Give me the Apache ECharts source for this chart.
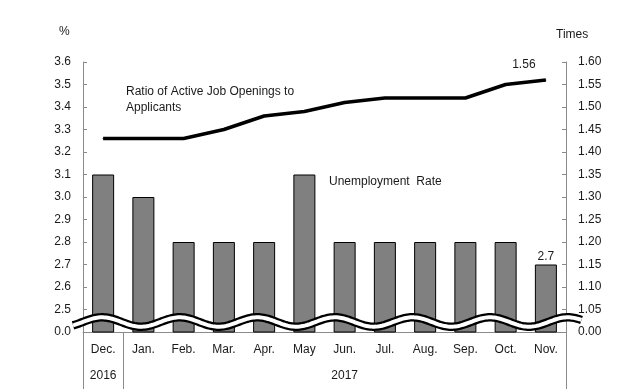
<!DOCTYPE html>
<html>
<head>
<meta charset="utf-8">
<script src="https://cdn.jsdelivr.net/npm/echarts@6/dist/echarts.min.js"></script>
<style>
html,body{margin:0;padding:0;background:#fff;}
#c{width:643px;height:389px;}
</style>
</head>
<body>
<div id="c"></div>
<script>
const categories = ['Dec.','Jan.','Feb.','Mar.','Apr.','May','Jun.','Jul.','Aug.','Sep.','Oct.','Nov.'];
const unemploymentRate = [3.1,3.0,2.8,2.8,2.8,3.1,2.8,2.8,2.8,2.8,2.8,2.7];
const jobOpeningsRatio = [1.43,1.43,1.43,1.45,1.48,1.49,1.51,1.52,1.52,1.52,1.55,1.56];
const leftTickLabels = ['0.0','2.5','2.6','2.7','2.8','2.9','3.0','3.1','3.2','3.3','3.4','3.5','3.6'];
const rightTickLabels = ['0.00','1.05','1.10','1.15','1.20','1.25','1.30','1.35','1.40','1.45','1.50','1.55','1.60'];
const yearLabels = ['2016','2017'];
const yearStarts = [0,1,12];

const FONT = '"Liberation Sans", Arial, sans-serif';
const TXT = '#1a1a1a';
const AXC = '#8a8a8a';

const chart = echarts.init(document.getElementById('c'), null, {renderer:'canvas'});
const last = categories.length - 1;

chart.setOption({
  animation:false,
  backgroundColor:'#fff',
  textStyle:{fontFamily:FONT},
  grid:{left:83,right:77,top:62,bottom:57,containLabel:false},
  xAxis:[{
    type:'category',data:categories,position:'bottom',
    axisLine:{show:true,lineStyle:{color:AXC,width:1}},
    axisTick:{show:false},
    axisLabel:{color:TXT,fontSize:12,fontFamily:FONT,margin:12}
  },{
    type:'value',min:0,max:12,position:'bottom',
    axisLine:{show:false},
    splitLine:{show:false},
    axisTick:{show:true,inside:false,length:58,customValues:yearStarts,lineStyle:{color:AXC,width:1}},
    axisLabel:{show:true,color:TXT,fontSize:12,fontFamily:FONT,margin:38,
      customValues:[ (yearStarts[0]+yearStarts[1])/2, (yearStarts[1]+yearStarts[2])/2 ],
      formatter:function(v){ return v < yearStarts[1] ? yearLabels[0] : yearLabels[1]; }}
  }],
  yAxis:[{
    type:'value',min:2.4,max:3.6,interval:0.1,position:'left',
    axisLine:{show:true,lineStyle:{color:AXC}},
    axisTick:{show:true,inside:true,length:4,lineStyle:{color:AXC}},
    splitLine:{show:false},
    axisLabel:{color:TXT,fontSize:12,fontFamily:FONT,margin:12,
      formatter:function(v){ return leftTickLabels[Math.round((v-2.4)/0.1)]; }}
  },{
    type:'value',min:1.0,max:1.6,interval:0.05,position:'right',
    axisLine:{show:true,lineStyle:{color:AXC}},
    axisTick:{show:true,inside:true,length:4,lineStyle:{color:AXC}},
    splitLine:{show:false},
    axisLabel:{color:TXT,fontSize:12,fontFamily:FONT,margin:12,
      formatter:function(v){ return rightTickLabels[Math.round((v-1.0)/0.05)]; }}
  }],
  series:[{
    name:'Unemployment Rate',type:'bar',xAxisIndex:0,yAxisIndex:0,
    data:unemploymentRate,barWidth:22,clip:true,
    itemStyle:{color:'#808080',borderColor:'#000',borderWidth:1},
    label:{show:true,position:'top',distance:2,color:TXT,fontSize:12,fontFamily:FONT,
      formatter:function(p){ return p.dataIndex===last ? p.value.toFixed(1) : ''; }}
  },{
    name:'Ratio of Active Job Openings to Applicants',type:'line',xAxisIndex:0,yAxisIndex:1,
    data:jobOpeningsRatio,symbol:'circle',symbolSize:1,showSymbol:true,
    itemStyle:{color:'#000'},
    lineStyle:{color:'#000',width:3.5},
    label:{show:true,position:'top',distance:9,offset:[-22,0],color:TXT,fontSize:12,fontFamily:FONT,
      formatter:function(p){ return p.dataIndex===last ? p.value.toFixed(2) : ''; }}
  }]
});

function drawDecor(){
  const yBase = chart.convertToPixel({yAxisIndex:0}, 2.4);
  const cy = yBase - 10;
  const amp = 4.7;
  const period = 77.6;
  const x0 = chart.convertToPixel({xAxisIndex:1}, 0) - 10;
  const x1 = chart.convertToPixel({xAxisIndex:1}, 12) + 16;
  const crest = chart.convertToPixel({xAxisIndex:0}, categories[0]) - 1;
  const pts = [];
  for(let x=x0; x<=x1; x+=1.5){
    pts.push([x, cy - amp*Math.cos(2*Math.PI*(x-crest)/period)]);
  }
  const yTop = chart.convertToPixel({yAxisIndex:0}, 3.6);
  const xl = chart.convertToPixel({xAxisIndex:1}, 0);
  const xr = chart.convertToPixel({xAxisIndex:1}, 12);
  chart.setOption({graphic:[
    {type:'polyline',z:100,shape:{points:pts},style:{stroke:'#000',lineWidth:8.5,fill:null}},
    {type:'polyline',z:101,shape:{points:pts},style:{stroke:'#fff',lineWidth:4,fill:null}},
    {type:'text',z:102,left:xl-24,top:yTop-36,style:{text:'%',fill:TXT,font:'12px '+FONT}},
    {type:'text',z:102,left:xr-10,top:yTop-33,style:{text:'Times',fill:TXT,font:'12px '+FONT}},
    {type:'text',z:102,left:126,top:84,style:{text:'Ratio of Active Job Openings to\nApplicants',fill:TXT,font:'12px '+FONT,lineHeight:16}},
    {type:'text',z:102,left:329,top:176,style:{text:'Unemployment  Rate',fill:TXT,font:'12px '+FONT}}
  ]});
}
drawDecor();
</script>
</body>
</html>
